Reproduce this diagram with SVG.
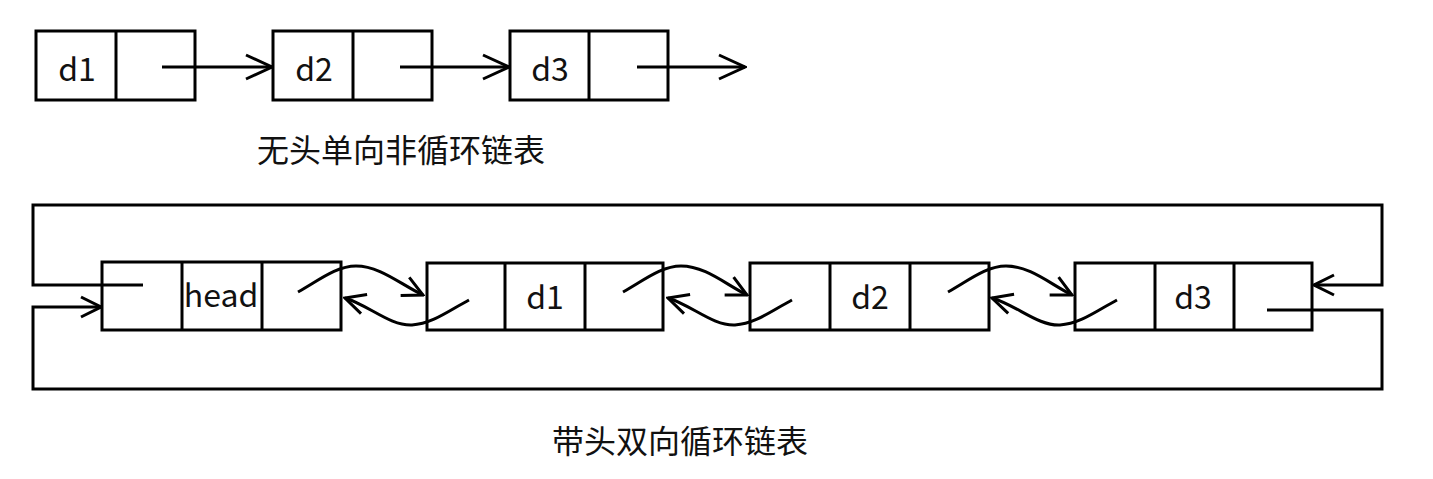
<svg xmlns="http://www.w3.org/2000/svg" width="1433" height="479" viewBox="0 0 1433 479">
<style>
.box{fill:none;stroke:#000;stroke-width:3}
.ln{fill:none;stroke:#000;stroke-width:3}
.t{font-family:"Noto Sans CJK SC","Microsoft YaHei",sans-serif;font-size:32px;fill:#111;text-anchor:middle}
</style>
<defs>
<marker id="big" markerUnits="userSpaceOnUse" viewBox="0 0 30 28" refX="28" refY="14" markerWidth="30" markerHeight="28" orient="auto">
<path d="M2,2 L28,14 L2,26" fill="none" stroke="#000" stroke-width="3"/>
</marker>
<marker id="sm" markerUnits="userSpaceOnUse" viewBox="0 0 24 24" refX="22" refY="12" markerWidth="24" markerHeight="24" orient="auto">
<path d="M2,2 L22,12 L2,22" fill="none" stroke="#000" stroke-width="3"/>
</marker>
</defs>
<rect width="1433" height="479" fill="#fff"/>
<g id="s1">
<rect class="box" x="36" y="31" width="159" height="69"/><line class="ln" x1="116" y1="31" x2="116" y2="100"/>
<text class="t" x="77" y="81">d1</text>
</g>
<g id="s2">
<rect class="box" x="273" y="31" width="159" height="69"/><line class="ln" x1="353" y1="31" x2="353" y2="100"/>
<text class="t" x="314" y="81">d2</text>
</g>
<g id="s3">
<rect class="box" x="510" y="31" width="158" height="69"/><line class="ln" x1="589" y1="31" x2="589" y2="100"/>
<text class="t" x="550" y="81">d3</text>
</g>
<g id="title1"><text class="t" x="401" y="162">无头单向非循环链表</text></g>
<g id="head">
<rect class="box" x="102" y="262" width="239" height="68"/><line class="ln" x1="182" y1="262" x2="182" y2="330"/><line class="ln" x1="262" y1="262" x2="262" y2="330"/>
<text class="t" x="221" y="307">head</text>
</g>
<g id="n1">
<rect class="box" x="427" y="263" width="236" height="67"/><line class="ln" x1="505" y1="263" x2="505" y2="330"/><line class="ln" x1="585" y1="263" x2="585" y2="330"/>
<text class="t" x="545" y="309">d1</text>
</g>
<g id="n2">
<rect class="box" x="750" y="263" width="239" height="67"/><line class="ln" x1="830" y1="263" x2="830" y2="330"/><line class="ln" x1="910" y1="263" x2="910" y2="330"/>
<text class="t" x="870" y="309">d2</text>
</g>
<g id="n3">
<rect class="box" x="1075" y="263" width="237" height="67"/><line class="ln" x1="1155" y1="263" x2="1155" y2="330"/><line class="ln" x1="1234" y1="263" x2="1234" y2="330"/>
<text class="t" x="1193" y="309">d3</text>
</g>
<g id="title2"><text class="t" x="680" y="453">带头双向循环链表</text></g>
<g id="connectors">
<line class="ln" x1="162" y1="67" x2="272" y2="67" marker-end="url(#big)"/>
<line class="ln" x1="400" y1="67" x2="509" y2="67" marker-end="url(#big)"/>
<line class="ln" x1="637" y1="67" x2="745" y2="67" marker-end="url(#big)"/>
<path class="ln" d="M143,285 L33,285 L33,205 L1382,205 L1382,285 L1314,285" marker-end="url(#sm)"/>
<path class="ln" d="M1267,310 L1382,310 L1382,389 L33,389 L33,307 L101,307" marker-end="url(#sm)"/>
<path class="ln" d="M298,292 C318,281 336,266 356,266 C380,266 400,284 423,295" marker-end="url(#sm)"/>
<path class="ln" d="M469,300 C450,310 432,324 412,325 C390,326 370,306 345,298" marker-end="url(#sm)"/>
<path class="ln" d="M623,292 C643,281 661,266 681,266 C705,266 725,284 747,295" marker-end="url(#sm)"/>
<path class="ln" d="M792,300 C773,310 755,324 735,325 C713,326 693,306 668,298" marker-end="url(#sm)"/>
<path class="ln" d="M948,292 C968,281 986,266 1006,266 C1030,266 1050,284 1072,295" marker-end="url(#sm)"/>
<path class="ln" d="M1117,300 C1098,310 1080,324 1060,325 C1038,326 1018,306 992,298" marker-end="url(#sm)"/>
</g>
</svg>
